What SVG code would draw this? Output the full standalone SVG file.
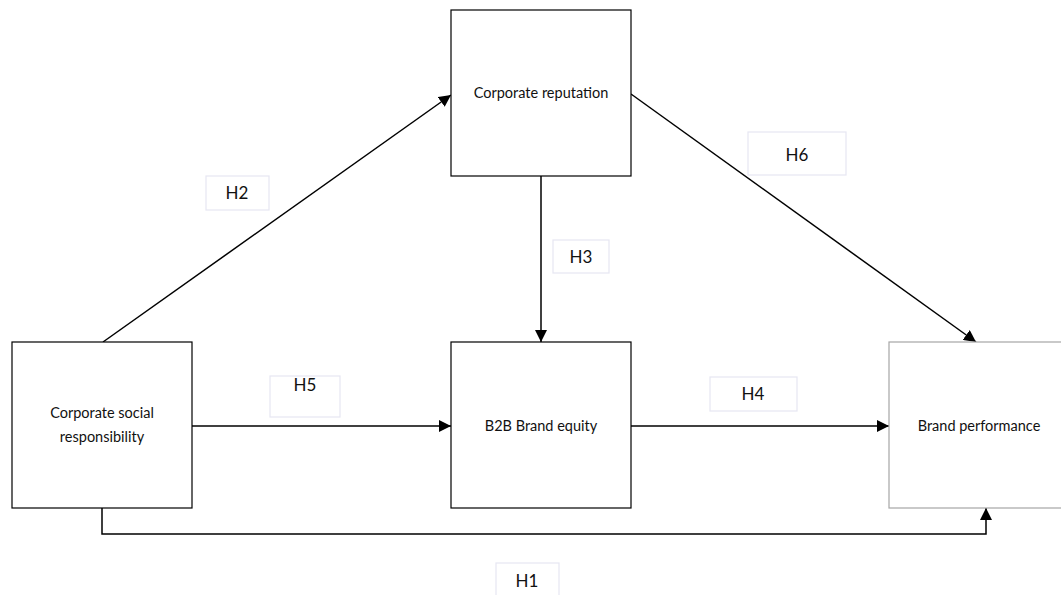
<svg xmlns="http://www.w3.org/2000/svg" width="1061" height="595" viewBox="0 0 1061 595">
<defs>
<marker id="arr" viewBox="0 0 12 12" refX="12" refY="6" markerWidth="12" markerHeight="12" markerUnits="userSpaceOnUse" orient="auto">
<path d="M0,0 L12,6 L0,12 z" fill="#000"/>
</marker>
<style>
.node{fill:#fff;stroke:#000;stroke-width:1.2}
.nodeg{fill:#fff;stroke:#a6a6a6;stroke-width:1.2}
.lbl{fill:#fff;stroke:#e6e6f2;stroke-width:1.2}
.t{font-family:Lato,"Liberation Sans",sans-serif;font-size:14.5px;fill:#111;text-anchor:middle}
.h{font-family:Lato,"Liberation Sans",sans-serif;font-size:17px;fill:#111;text-anchor:middle}
.c{fill:none;stroke:#000;stroke-width:1.5;marker-end:url(#arr)}
</style>
</defs>
<rect width="1061" height="595" fill="#fff"/>
<g id="connectors">
<line class="c" x1="103" y1="342" x2="451" y2="95"/>
<line class="c" x1="541" y1="176" x2="541" y2="342"/>
<line class="c" x1="631" y1="94" x2="976" y2="342"/>
<line class="c" x1="192" y1="426" x2="451" y2="426"/>
<line class="c" x1="631" y1="426" x2="889" y2="426"/>
<polyline class="c" points="102,508 102,534 986,534 986,508"/>
</g>
<g id="cr"><rect class="node" x="451" y="10" width="180" height="166"/><text class="t" x="541" y="98">Corporate reputation</text></g>
<g id="csr"><rect class="node" x="12" y="342" width="180" height="166"/><text class="t" x="102" y="418">Corporate social</text><text class="t" x="102" y="442">responsibility</text></g>
<g id="b2b"><rect class="node" x="451" y="342" width="180" height="166"/><text class="t" x="541" y="431">B2B Brand equity</text></g>
<g id="bp"><rect class="nodeg" x="889" y="342" width="180" height="166"/><text class="t" x="979" y="431">Brand performance</text></g>
<g id="h2"><rect class="lbl" x="206" y="176" width="63" height="34"/><text class="h" x="237" y="199">H2</text></g>
<g id="h5"><rect class="lbl" x="270" y="376" width="70" height="41"/><text class="h" x="305" y="391">H5</text></g>
<g id="h3"><rect class="lbl" x="553" y="240" width="56" height="33"/><text class="h" x="581" y="263">H3</text></g>
<g id="h6"><rect class="lbl" x="748" y="132" width="98" height="43"/><text class="h" x="797" y="161">H6</text></g>
<g id="h4"><rect class="lbl" x="710" y="377" width="87" height="34"/><text class="h" x="753" y="400">H4</text></g>
<g id="h1"><rect class="lbl" x="496" y="563" width="63" height="36"/><text class="h" x="527" y="587">H1</text></g>
</svg>
